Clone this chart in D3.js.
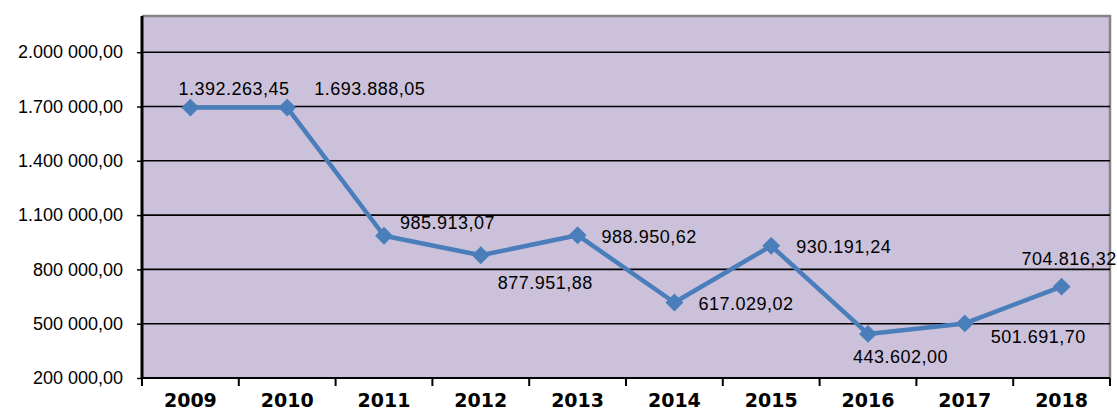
<!DOCTYPE html>
<meta charset="utf-8">
<style>
body { margin: 0; background: #fff; }
svg { display: block; }
.ylab { font: 18px "Liberation Sans", Arial, sans-serif; fill: #000; }
.xlab { font: bold 19px "DejaVu Sans", sans-serif; fill: #000; }
.dlab { font: 18px "Liberation Sans", Arial, sans-serif; fill: #000; letter-spacing: 0.5px; }
</style>
<body>
<script src="https://d3js.org/d3.v7.min.js"></script>
<script>
// data
var years = ["2009","2010","2011","2012","2013","2014","2015","2016","2017","2018"];
var values = [1693888.05, 1693888.05, 985913.07, 877951.88, 988950.62, 617029.02, 930191.24, 443602.00, 501691.70, 704816.32];
var valueLabels = ["1.392.263,45","1.693.888,05","985.913,07","877.951,88","988.950,62","617.029,02","930.191,24","443.602,00","501.691,70","704.816,32"];
var yTicks = [200000, 500000, 800000, 1100000, 1400000, 1700000, 2000000];
var yTickLabels = ["200 000,00","500 000,00","800 000,00","1.100 000,00","1.400 000,00","1.700 000,00","2.000 000,00"];

// label placement (moved by hand in the original)
var labelOffsets = [[-12,-19],[27,-19],[16,-13],[17,28],[24,2],[24,1],[25,1],[-15,23],[26,14],[-40,-28]];

var W = 1117, H = 417;
var plot = {left: 142, right: 1110, top: 16, bottom: 378};

var svg = d3.select("body").append("svg")
    .attr("width", W)
    .attr("height", H);

var x = d3.scaleBand().domain(years).range([plot.left, plot.right]);
var y = d3.scaleLinear().domain([200000, 2200000]).range([plot.bottom, plot.top]);

// plot background
svg.append("rect")
    .attr("x", plot.left).attr("y", plot.top)
    .attr("width", plot.right - plot.left)
    .attr("height", plot.bottom - plot.top)
    .attr("fill", "#ccc1da");

// top + right border
svg.append("path")
    .attr("d", "M" + plot.left + "," + (plot.top) + "H" + plot.right + "V" + plot.bottom)
    .attr("fill", "none")
    .attr("stroke", "#858585")
    .attr("stroke-width", 2.5);

// gridlines and y axis
var yAxis = d3.axisLeft(y)
    .tickValues(yTicks)
    .tickSize(5)
    .tickPadding(14)
    .tickFormat(function(d, i) { return yTickLabels[i]; });

var gy = svg.append("g")
    .attr("transform", "translate(" + plot.left + ",0)")
    .call(yAxis);
gy.select(".domain").remove();
gy.selectAll(".tick line").attr("stroke", "#000").attr("stroke-width", 1.5);
gy.selectAll(".tick text").attr("class", "ylab").attr("font-size", null).attr("font-family", null);

svg.append("g")
  .selectAll("line")
  .data(yTicks.slice(1))
  .enter().append("line")
    .attr("x1", plot.left).attr("x2", plot.right)
    .attr("y1", function(d) { return y(d); })
    .attr("y2", function(d) { return y(d); })
    .attr("stroke", "#000")
    .attr("stroke-width", 1.6);

// axis lines
svg.append("line")
    .attr("x1", plot.left).attr("x2", plot.left)
    .attr("y1", plot.top).attr("y2", plot.bottom + 1)
    .attr("stroke", "#000").attr("stroke-width", 3);
svg.append("line")
    .attr("x1", plot.left - 1).attr("x2", plot.right)
    .attr("y1", plot.bottom).attr("y2", plot.bottom)
    .attr("stroke", "#000").attr("stroke-width", 2);

// x ticks at category boundaries
var bounds = years.map(function(d) { return x(d); }).concat([x.range()[1]]);
svg.append("g")
  .selectAll("line")
  .data(bounds)
  .enter().append("line")
    .attr("x1", function(d) { return d; })
    .attr("x2", function(d) { return d; })
    .attr("y1", plot.bottom).attr("y2", plot.bottom + 8)
    .attr("stroke", "#000").attr("stroke-width", 2);

svg.append("g")
  .selectAll("text")
  .data(years)
  .enter().append("text")
    .attr("class", "xlab")
    .attr("x", function(d) { return x(d) + x.bandwidth() / 2; })
    .attr("y", 407)
    .attr("text-anchor", "middle")
    .text(function(d) { return d; });

// line
var pts = years.map(function(d, i) { return {year: d, v: values[i], label: valueLabels[i], off: labelOffsets[i]}; });
var cx = function(d) { return x(d.year) + x.bandwidth() / 2; };

svg.append("path")
    .datum(pts)
    .attr("fill", "none")
    .attr("stroke", "#4a7ebb")
    .attr("stroke-width", 4.5)
    .attr("stroke-linejoin", "round")
    .attr("d", d3.line().x(cx).y(function(d) { return y(d.v); }));

svg.selectAll(".marker")
    .data(pts)
    .enter().append("path")
    .attr("class", "marker")
    .attr("d", d3.symbol().type(d3.symbolSquare).size(160))
    .attr("transform", function(d) { return "translate(" + cx(d) + "," + y(d.v) + ") rotate(45)"; })
    .attr("fill", "#4a7ebb");

svg.selectAll(".dlab")
    .data(pts)
    .enter().append("text")
    .attr("class", "dlab")
    .attr("x", function(d) { return cx(d) + d.off[0]; })
    .attr("y", function(d) { return y(d.v) + d.off[1] + 6; })
    .text(function(d) { return d.label; });
</script>
</body>
